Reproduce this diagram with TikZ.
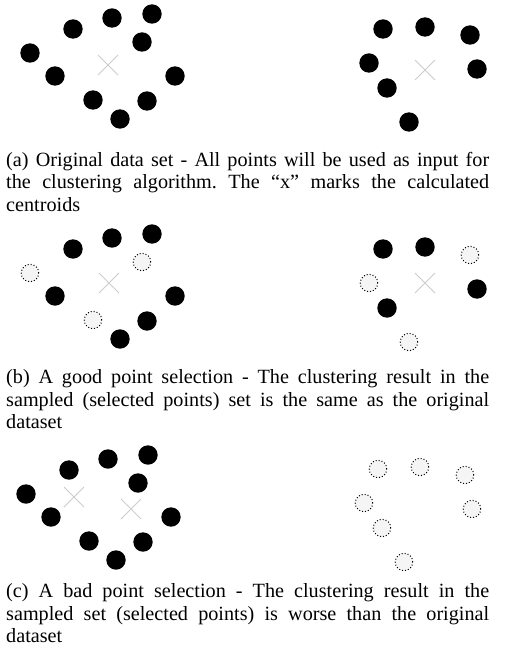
\documentclass[tikz,border=0pt]{standalone}
\usepackage{fontspec}
\setmainfont{Liberation Serif}
\usetikzlibrary{shapes.misc}
\frenchspacing

\begin{document}
\begin{tikzpicture}[
    x=1pt, y=-1pt,
    datapt/.style={circle, fill=black, inner sep=0pt, minimum size=19.4pt},
    droppt/.style={circle, draw=black, dotted, line width=1pt, fill=gray!8, inner sep=0pt, minimum size=17.5pt},
    centroid/.style={cross out, draw=black!20, line width=1pt, inner sep=0pt, minimum size=19pt},
    caption/.style={anchor=north west, inner sep=0pt, text width=483pt, align=justify, font=\fontsize{20.2}{22.5}\selectfont}
]
\useasboundingbox (0,0) rectangle (506,658);

% (a) original data set
\foreach \px/\py [count=\i] in {30/53, 73/29, 112/18, 152/14, 142/42, 55/76, 175/76, 93/100, 147/101, 120/119}
    \node[datapt] (aL\i) at (\px,\py) {};
\foreach \px/\py [count=\i] in {383/29, 425/27, 470/35, 369/63, 477/69, 387/88, 409/122}
    \node[datapt] (aR\i) at (\px,\py) {};
\node[centroid] (caL) at (108,65) {};
\node[centroid] (caR) at (425,70) {};

\node[caption] (capa) at (6,152) {(a) Original data set - All points will be used as input for\linebreak the clustering algorithm. The ``x'' marks the calculated\linebreak centroids};

% (b) good selection
\begin{scope}[shift={(0,220)}]
\foreach \px/\py/\sty [count=\i] in {30/53/droppt, 73/29/datapt, 112/18/datapt, 152/14/datapt, 142/42/droppt, 55/76/datapt, 175/76/datapt, 93/100/droppt, 147/101/datapt, 120/119/datapt}
    \node[\sty] (bL\i) at (\px,\py) {};
\foreach \px/\py/\sty [count=\i] in {383/29/datapt, 425/27/datapt, 470/35/droppt, 369/63/droppt, 477/69/datapt, 387/88/datapt, 409/122/droppt}
    \node[\sty] (bR\i) at (\px,\py) {};
\node[centroid] (cbL) at (109,63) {};
\node[centroid] (cbR) at (425,63) {};
\end{scope}

\node[caption] (capb) at (6,369.5) {(b) A good point selection - The clustering result in the\linebreak sampled (selected points) set is the same as the original\linebreak dataset};

% (c) bad selection
\begin{scope}[shift={(-4,441)}]
\foreach \px/\py [count=\i] in {30/53, 73/29, 112/18, 152/14, 142/42, 55/76, 175/76, 93/100, 147/101, 120/119}
    \node[datapt] (cL\i) at (\px,\py) {};
\node[centroid] (ccL1) at (78,56) {};
\node[centroid] (ccL2) at (135,68) {};
\end{scope}
\begin{scope}[shift={(-5,440)}]
\foreach \px/\py [count=\i] in {383/29, 425/27, 470/35, 369/63, 477/69, 387/88, 409/122}
    \node[droppt] (cR\i) at (\px,\py) {};
\end{scope}

\node[caption] (capc) at (6,583.5) {(c) A bad point selection - The clustering result in the\linebreak sampled set (selected points) is worse than the original\linebreak dataset};

\end{tikzpicture}
\end{document}
